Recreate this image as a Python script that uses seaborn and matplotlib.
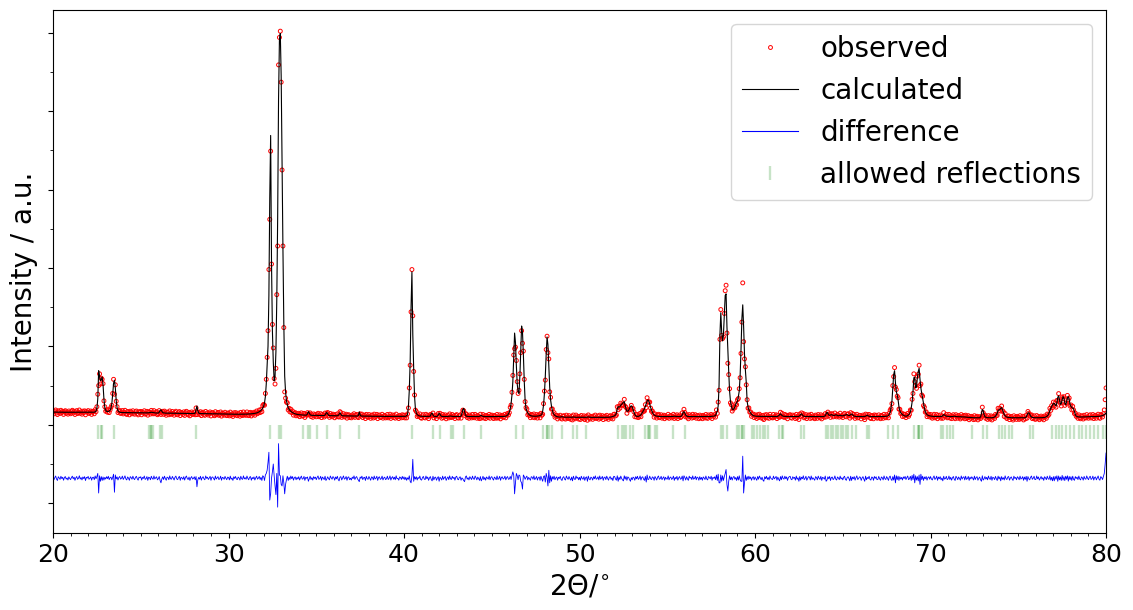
import numpy as np
import pandas as pd
import matplotlib
matplotlib.use("Agg")
import matplotlib.pyplot as plt
from matplotlib.lines import Line2D
from matplotlib.ticker import MultipleLocator
import seaborn as sns

# ------------------------------------------------------------
# scan: 2theta from 20 to 80 deg, step 0.05 deg
# one line per degree (20.00 ... 20.95 etc.)
# ------------------------------------------------------------
scan_start = 20.0
scan_step = 0.05

calculated = [
    162, 162, 162, 162, 161, 161, 161, 161, 161, 161, 161, 161, 160, 160, 160, 160, 160, 160, 160, 160,
    160, 160, 160, 160, 160, 160, 160, 160, 159, 159, 159, 159, 159, 159, 159, 159, 159, 159, 159, 159,
    159, 159, 159, 159, 159, 160, 160, 161, 165, 175, 210, 330, 690, 620, 560, 575, 610, 510, 330, 220,
    185, 172, 168, 170, 175, 185, 210, 270, 390, 530, 570, 470, 310, 215, 180, 167, 161, 158, 157, 156,
    156, 156, 156, 155, 155, 155, 155, 155, 155, 154, 154, 154, 154, 154, 154, 153, 153, 153, 153, 153,
    153, 153, 153, 152, 152, 152, 152, 152, 152, 153, 155, 158, 160, 158, 155, 153, 152, 151, 151, 151,
    150, 160, 182, 192, 172, 156, 152, 150, 149, 149, 149, 149, 148, 148, 148, 148, 148, 148, 147, 147,
    147, 147, 147, 147, 146, 146, 146, 146, 146, 146, 145, 145, 145, 145, 145, 145, 144, 144, 144, 144,
    144, 144, 150, 195, 240, 180, 150, 145, 143, 143, 143, 143, 142, 142, 142, 142, 141, 141, 141, 141,
    141, 141, 140, 140, 140, 140, 140, 139, 139, 139, 139, 139, 138, 138, 138, 138, 138, 137, 137, 137,
    137, 137, 136, 136, 136, 136, 135, 135, 135, 135, 135, 135, 135, 135, 135, 135, 135, 135, 135, 135,
    136, 137, 137, 138, 138, 139, 140, 141, 142, 144, 146, 148, 151, 155, 160, 166, 174, 184, 197, 215,
    240, 280, 360, 520, 760, 1000, 1650, 2900, 3690, 2050, 1200, 800, 560, 620, 930, 1600, 2650, 4150, 4900, 4990,
    4450, 3350, 2250, 1300, 620, 420, 310, 255, 220, 198, 183, 172, 163, 155, 149, 144, 140, 136, 133, 131,
    129, 128, 127, 126, 125, 124, 124, 123, 123, 124, 140, 168, 150, 128, 122, 121, 121, 120, 120, 120,
    122, 120, 119, 119, 119, 119, 119, 118, 118, 118, 125, 145, 158, 140, 122, 117, 117, 116, 116, 116,
    116, 116, 115, 115, 115, 120, 135, 155, 135, 118, 115, 114, 114, 114, 114, 113, 113, 113, 113, 113,
    113, 112, 112, 112, 112, 112, 112, 112, 118, 165, 125, 112, 111, 111, 111, 111, 110, 110, 110, 110,
    110, 110, 110, 109, 109, 109, 109, 109, 109, 109, 108, 108, 108, 108, 108, 108, 108, 108, 107, 107,
    107, 107, 107, 107, 107, 107, 107, 107, 107, 107, 106, 106, 106, 106, 106, 106, 106, 106, 106, 106,
    107, 108, 110, 116, 135, 230, 440, 800, 1500, 1950, 1150, 720, 360, 200, 150, 130, 120, 115, 112, 110,
    109, 108, 108, 107, 107, 107, 107, 107, 107, 108, 112, 140, 150, 125, 110, 107, 106, 106, 110, 125,
    148, 135, 115, 108, 106, 106, 106, 106, 106, 106, 106, 108, 110, 112, 110, 108, 106, 106, 106, 106,
    106, 106, 106, 106, 107, 112, 140, 195, 210, 165, 125, 110, 107, 106, 106, 106, 106, 106, 106, 106,
    106, 106, 106, 106, 106, 106, 108, 115, 120, 112, 107, 106, 106, 105, 105, 105, 105, 105, 105, 105,
    105, 105, 105, 105, 105, 104, 104, 104, 104, 104, 104, 104, 105, 106, 107, 109, 111, 115, 125, 140,
    165, 200, 270, 380, 550, 850, 1170, 1050, 760, 520, 420, 400, 620, 960, 1260, 1180, 900, 560, 310, 210,
    175, 150, 135, 125, 118, 114, 111, 110, 109, 109, 109, 110, 111, 113, 115, 118, 123, 132, 175, 250,
    400, 620, 900, 1120, 1020, 740, 480, 320, 240, 185, 150, 130, 118, 110, 105, 102, 100, 99, 99, 102,
    104, 100, 98, 97, 97, 96, 96, 96, 96, 96, 96, 96, 97, 100, 98, 96, 96, 96, 95, 95,
    95, 95, 95, 95, 95, 95, 95, 95, 96, 98, 100, 98, 96, 95, 95, 95, 95, 95, 95, 95,
    95, 95, 95, 95, 95, 95, 95, 95, 96, 96, 96, 96, 96, 96, 97, 98, 100, 103, 106, 110,
    116, 125, 150, 200, 232, 225, 230, 250, 262, 270, 290, 295, 250, 200, 175, 172, 185, 210, 235, 242,
    230, 195, 160, 130, 115, 108, 106, 108, 112, 118, 128, 145, 165, 185, 205, 235, 270, 305, 318, 300,
    265, 220, 190, 160, 138, 125, 118, 113, 110, 108, 107, 106, 106, 105, 105, 105, 105, 105, 105, 105,
    105, 105, 105, 105, 105, 105, 106, 108, 110, 108, 106, 105, 105, 105, 105, 106, 110, 125, 155, 168,
    150, 125, 112, 107, 105, 105, 105, 105, 105, 105, 105, 105, 105, 105, 105, 105, 105, 105, 105, 105,
    105, 105, 105, 105, 105, 105, 105, 105, 106, 106, 107, 108, 109, 111, 114, 118, 150, 175, 240, 500,
    1150, 1430, 1180, 1070, 1150, 1400, 1650, 1670, 1250, 950, 680, 430, 300, 240, 200, 192, 205, 230, 260, 285,
    300, 360, 430, 620, 950, 1350, 1530, 1250, 900, 700, 540, 300, 230, 190, 170, 150, 135, 125, 118, 114,
    112, 110, 109, 108, 108, 108, 108, 107, 107, 107, 107, 107, 106, 106, 106, 106, 106, 106, 106, 106,
    106, 106, 106, 106, 106, 106, 108, 115, 132, 140, 128, 116, 110, 108, 107, 106, 106, 106, 106, 106,
    106, 106, 106, 106, 106, 106, 106, 106, 106, 106, 108, 115, 132, 140, 125, 112, 108, 107, 106, 106,
    106, 106, 106, 106, 106, 106, 106, 105, 105, 105, 105, 105, 105, 105, 105, 105, 105, 105, 105, 110,
    115, 140, 160, 145, 125, 120, 125, 130, 126, 120, 118, 122, 128, 125, 118, 115, 118, 122, 118, 114,
    115, 118, 122, 125, 130, 128, 122, 118, 120, 130, 138, 130, 118, 112, 108, 106, 105, 105, 105, 105,
    105, 105, 105, 105, 105, 106, 110, 118, 122, 115, 108, 106, 105, 105, 105, 105, 105, 105, 105, 105,
    105, 105, 105, 105, 105, 105, 106, 106, 107, 108, 110, 113, 118, 135, 160, 220, 300, 480, 640, 690,
    540, 420, 385, 320, 230, 180, 155, 142, 130, 122, 116, 112, 110, 112, 118, 128, 140, 165, 215, 290,
    420, 600, 610, 470, 490, 600, 680, 720, 580, 470, 400, 340, 275, 210, 170, 145, 130, 122, 117, 114,
    112, 110, 108, 107, 106, 106, 106, 106, 106, 106, 106, 106, 106, 108, 118, 130, 125, 115, 110, 108,
    107, 106, 105, 105, 105, 106, 108, 110, 108, 105, 104, 104, 103, 103, 102, 102, 101, 101, 100, 100,
    98, 97, 96, 95, 94, 93, 92, 91, 91, 90, 90, 90, 90, 90, 90, 90, 90, 100, 140, 195,
    180, 130, 105, 95, 92, 91, 90, 90, 90, 90, 90, 92, 95, 100, 110, 125, 150, 185, 190, 195,
    210, 220, 195, 160, 130, 115, 105, 98, 95, 93, 92, 91, 90, 90, 90, 90, 90, 90, 90, 90,
    90, 90, 90, 90, 90, 90, 90, 90, 92, 100, 125, 150, 155, 135, 112, 100, 94, 92, 91, 90,
    90, 90, 90, 90, 90, 90, 90, 91, 92, 93, 95, 98, 103, 112, 125, 150, 180, 210, 233, 255,
    270, 275, 255, 240, 280, 350, 370, 320, 260, 270, 320, 360, 340, 280, 255, 290, 345, 360, 320, 260,
    235, 220, 212, 205, 170, 130, 112, 105, 102, 100, 100, 100, 100, 100, 100, 100, 100, 101, 102, 103,
    104, 104, 104, 104, 104, 105, 105, 105, 106, 106, 107, 107, 108, 110, 112, 115, 118, 122, 130, 140,
    150,
]

# observed - calculated
residual = [
    14, -22, 6, 27, -11, -30, 18, 3, -16, 24, -6, 11, -27, 9, 20, -13, 2, -24, 16, -4,
    -19, 8, 25, -9, 13, -28, 4, 21, -15, -2, 30, -12, 7, -23, 15, -6, 19, -31, 10, 1,
    22, -14, -3, 17, -26, 9, 12, -20, 28, -8, 20, 60, -190, 30, -40, 20, -30, 15, -25, 10,
    -12, 18, -7, 24, -19, 5, 13, -22, 10, 50, -180, 40, -10, 16, -24, 7, 21, -13, -2, 26,
    -17, 4, 29, -10, -23, 15, 1, -28, 19, 8, -14, 25, -6, -19, 11, 23, -9, -26, 14, 3,
    18, -25, 9, -4, 27, -16, -8, 20, -29, 12, 6, -21, 24, -3, -15, 28, -11, 5, 17, -22,
    -7, 21, -30, -60, -10, 16, -18, 25, -5, -27, 13, 8, -20, 29, -9, -14, 22, -1, -24, 11,
    26, -10, -19, 7, 23, -28, 12, 2, -15, 19, -25, 10, 27, -6, -18, 14, -29, 4, 20, -12,
    -4, 17, -22, 20, -110, -20, 9, -13, 24, -26, 6, 18, -9, -21, 28, -3, 12, -17, 1, 23,
    -28, 11, 15, -6, -24, 27, -12, 3, 19, -18, -8, 25, -27, 10, 5, -15, 22, -2, -20, 13,
    9, -23, 26, -14, 1, -29, 18, -5, 21, -11, -19, 14, 2, -25, 24, -8, -16, 29, -10, 6,
    -15, 27, -3, -21, 12, 20, -27, 8, -9, 16, -24, 4, 25, -13, -1, 22, -18, 11, -30, 30,
    20, -30, 40, 60, 100, 200, 330, -280, -200, 0, 80, 180, 30, -100, -210, 60, -370, 440, 40, 30,
    -80, -100, 30, -60, -200, -80, -20, 25, -30, 12, -18, 27, -7, 20, -26, 5, 16, -21, 9, -12,
    18, -24, 3, 26, -13, -8, 22, -29, 11, -2, 15, -40, -10, 24, -17, 6, -25, 19, -4, 13,
    -20, 9, 28, -16, -5, 23, -27, 14, 1, -19, 25, -30, -11, 17, -6, -22, 27, 4, -14, 20,
    7, -26, 15, -9, 24, -18, -35, 12, 19, -23, 2, 28, -13, -5, 21, -28, 10, 16, -20, -1,
    -24, 13, -6, 29, -17, 8, 20, -10, -26, -45, 14, -3, 25, -19, 6, 11, -30, 23, -8, -15,
    21, -4, -27, 16, 10, -22, 27, -12, -1, 24, -29, 9, 17, -16, -7, 26, -23, 3, 13, -19,
    -9, 25, -18, -3, 28, -25, 5, 19, -14, 12, -21, 30, -8, -2, -26, 15, 8, -17, 22, -11,
    16, -20, 11, -28, 4, -15, 30, -40, -60, 30, 240, -40, 20, -13, 18, -24, 9, -6, 27, -18,
    -25, 6, 22, -11, -19, 27, -7, 14, -28, 3, 20, -16, -35, 25, -22, 8, 13, -27, 1, 19,
    -40, 12, -3, -24, 26, -15, 7, 21, -29, -2, 16, -20, 29, -9, -17, 23, -5, 11, -26, 14,
    24, -12, -21, 9, 17, -27, 3, -8, -30, -45, 15, 28, -14, 5, -23, 19, -1, -18, 26, -7,
    -16, 27, 5, -22, 13, -4, -29, 20, -35, -10, 24, -19, 8, -26, 15, 2, -13, 28, -21, 10,
    19, -8, -25, 14, 1, -20, 28, -17, -5, 23, -28, 10, 17, -12, -3, 25, -22, 7, 20, -15,
    -10, 22, -18, 35, 80, 40, -200, -60, 60, 30, -20, 40, 30, -40, -60, -140, 40, 20, -15, 10,
    26, -23, 9, -6, -27, 18, 12, -14, 29, -19, -2, 21, -25, 6, 15, -29, 24, -11, -40, 20,
    30, -50, 60, 10, -100, 100, -60, 30, -40, 18, -12, 25, -21, 4, 16, -27, 11, -5, 23, -17,
    -30, 8, 19, -13, -24, 27, 2, -16, 21, -7, -26, 14, -35, 25, -9, -19, 28, -3, 12, -22,
    11, -27, 24, -4, -15, 20, -29, 7, 16, -40, 26, -10, -22, 13, 3, -25, 18, -8, 29, -14,
    -6, 17, -23, 28, -12, -1, 22, -28, 9, 14, -19, 25, -3, -26, 10, 19, -16, 4, -31, 23,
    20, -11, -26, 30, -40, 12, -18, 26, -5, -22, -35, 30, -14, 21, -28, 15, 8, -19, -40, 6,
    -21, 13, 4, -27, 19, -9, 24, -16, -3, 28, -25, 10, 17, -13, -29, 22, -50, 40, -20, -12,
    25, -7, -19, 16, 8, -28, 21, -2, -24, 13, 27, -15, -6, 23, -20, 2, 18, -27, 11, -9,
    -13, 29, -22, 6, 15, -17, -4, 26, -29, 10, -11, 23, -26, 3, 20, -14, -8, 27, -35, 30,
    8, -24, 18, -10, -28, 25, -1, 12, -19, 29, -13, -5, 24, -21, 14, 6, -27, 19, -16, 9,
    -27, 16, 2, -18, 27, -12, -23, 21, 5, -9, 25, -28, 11, -4, 17, -20, 40, -30, 50, -60,
    -60, 40, -40, 30, -30, 20, 60, 110, -80, -165, -40, 30, -20, 15, -25, 10, 22, -14, 8, -30,
    20, -25, 30, -20, -40, -40, 280, -190, -60, 40, -30, 20, -18, 25, -9, 14, -27, 6, 19, -22,
    15, -6, -28, 21, -14, 27, 3, -20, 12, -25, -40, 18, -7, 24, -17, 9, -23, 28, -2, -12,
    -18, 26, -9, 4, 22, -27, 13, -15, -35, 20, -21, 29, -4, -13, 25, -8, 16, -29, 7, 18,
    23, -12, -21, 18, -3, 10, -26, 27, -16, 5, -40, 22, -25, 12, -8, 30, -19, -5, 24, -27,
    -5, 20, 13, -24, 28, -17, 6, -10, -27, 19, 8, -22, 26, -1, -16, 23, -29, 11, 3, -14,
    27, -40, -25, 17, -8, 21, -30, 9, 14, -19, -6, 28, -13, -24, 15, 2, -20, 26, -11, 5,
    -22, 11, 24, -15, -28, 7, 18, -4, -35, 25, -30, 13, -9, 20, -26, 4, 29, -17, -7, 16,
    12, -29, 3, 19, -13, -40, 26, -21, 8, -6, 24, -16, -25, 14, 10, -28, 21, -3, 17, -20,
    -16, 22, -10, -27, 15, 5, -23, 28, -7, -18, 20, -1, -29, 13, 26, -14, -30, 20, -25, 40,
    -60, 30, -20, 25, -30, 18, -12, 9, -24, 16, -5, 22, -18, 7, 27, -20, -8, 24, -30, 35,
    -20, 50, -60, 30, -25, 20, -35, 40, -80, 50, -20, 25, -30, 15, -9, 21, -26, 6, 17, -14,
    20, -11, -24, 7, 28, -17, -3, 25, -28, 14, -8, 19, -22, 2, -35, 25, -13, -6, 23, -19,
    -9, 27, -18, 11, -26, 4, 21, -14, -30, 24, 6, -20, 15, -4, -27, 28, -12, 9, 18, -23,
    25, -16, -6, 22, -29, 13, -10, 17, -1, -24, 26, -18, 8, 19, -27, -3, 14, -20, -40, 30,
    -25, -10, 20, -13, 10, -22, 27, -5, -17, 24, -28, 12, 3, -19, 22, -8, -30, 26, -12, 15,
    -35, 20, -15, 6, -24, 29, -7, -18, 13, 21, -26, 2, 16, -11, -29, 25, -4, 9, -21, 18,
    4, -21, 26, -12, -3, 19, -28, 14, -16, 23, -40, 20, -8, -22, 10, 27, -15, -1, 24, -19,
    -17, 28, -9, 15, -25, -4, 21, -13, 7, -29, 18, 3, -20, 25, -7, -16, 30, -26, 11, -35,
    20, -35, 22, -15, 30, -40, 28, -22, 15, -30, 35, -25, 18, -32, 25, -15, 30, -38, 22, -20,
    18, -30, 25, -15, -28, 20, -5, 13, -19, 27, -10, -23, 16, 5, -26, 22, -8, -14, 28, -2,
    -20, 12, 24, -17, -6, 26, -25, 9, 15, -22, 3, 28, -13, -27, 19, 8, -18, 20, 60, 180,
    320,
]

# allowed reflection positions (2theta, deg)
reflections = [
    22.58, 22.72, 22.81, 23.50, 25.49, 25.58, 25.60, 25.72, 26.10, 26.21, 28.13,
    32.36, 32.90, 33.01, 34.27, 34.51, 34.64, 35.02, 35.59, 36.35, 37.44,
    40.47, 41.63, 42.05, 42.66, 42.77, 43.42, 44.37, 46.36, 46.76,
    47.94, 48.13, 48.15, 48.28, 48.42, 48.98, 49.65, 49.84, 50.37,
    52.21, 52.40, 52.53, 52.65, 52.88, 53.07, 53.73, 53.92, 53.94, 54.02, 54.30, 54.43,
    55.34, 56.01, 58.04, 58.19, 58.42, 58.96, 59.11, 59.24, 59.26, 59.37,
    59.81, 59.94, 60.10, 60.29, 60.44, 60.57, 60.76, 61.38, 61.52, 61.61, 62.62, 62.79,
    64.05, 64.18, 64.31, 64.46, 64.62, 64.75, 64.88, 65.03, 65.19, 65.32, 65.51, 65.75,
    66.36, 66.51, 67.60, 67.88, 68.13, 69.07, 69.27, 69.35, 69.37, 69.50,
    70.58, 70.73, 70.92, 71.11, 71.30, 72.35, 73.01, 73.20,
    73.88, 74.07, 74.26, 74.45, 74.64, 75.67, 75.86,
    76.94, 77.13, 77.32, 77.51, 77.70, 77.94, 78.17, 78.46, 78.65, 78.84,
    79.09, 79.32, 79.55, 79.80, 79.98,
]

diff_offset = -680   # where the difference curve sits
refl_level = -90     # where the reflection marks sit

two_theta = np.round(scan_start + scan_step * np.arange(len(calculated)), 2)
calc = np.array(calculated, dtype=float)
obs = calc + np.array(residual, dtype=float)

df = pd.DataFrame({
    "two_theta": two_theta,
    "observed": obs,
    "calculated": calc,
    "difference": obs - calc + diff_offset,
})

fig, ax = plt.subplots(figsize=(11.33, 6.1), dpi=100)
fig.subplots_adjust(left=0.0468, right=0.9762, top=0.9836, bottom=0.1262)

sns.scatterplot(data=df, x="two_theta", y="observed", ax=ax, marker="o", s=8,
                facecolors="none", edgecolor="red", linewidth=0.7, legend=False)
sns.lineplot(data=df, x="two_theta", y="calculated", ax=ax, color="black", lw=0.8,
             estimator=None, sort=False, legend=False)
sns.lineplot(data=df, x="two_theta", y="difference", ax=ax, color="blue", lw=0.6,
             estimator=None, sort=False, legend=False)
ax.plot(reflections, [refl_level] * len(reflections), "|", color="green",
        alpha=0.22, ms=10, mew=1.7)

ax.set_xlim(20, 80)
ax.set_ylim(-1380, 5290)
ax.xaxis.set_major_locator(MultipleLocator(10))
ax.xaxis.set_minor_locator(MultipleLocator(1))
ax.yaxis.set_major_locator(MultipleLocator(1000))
ax.yaxis.set_minor_locator(MultipleLocator(500))
ax.set_yticklabels([])
ax.tick_params(axis="x", labelsize=18)

ax.set_xlabel(r"2$\Theta$/$^{\circ}$", fontsize=20)
ax.set_ylabel("Intensity / a.u.", fontsize=20)

# legend keys
handles = [
    Line2D([], [], ls="none", marker="o", ms=2.8, mfc="none", mec="red", mew=0.7),
    Line2D([], [], color="black", lw=0.8),
    Line2D([], [], color="blue", lw=0.8),
    Line2D([], [], ls="none", marker="|", ms=10, mew=1.7, color="green", alpha=0.22),
]
ax.legend(handles, ["observed", "calculated", "difference", "allowed reflections"],
          loc="upper right", fontsize=20)

fig.savefig("out.png", dpi=100)
